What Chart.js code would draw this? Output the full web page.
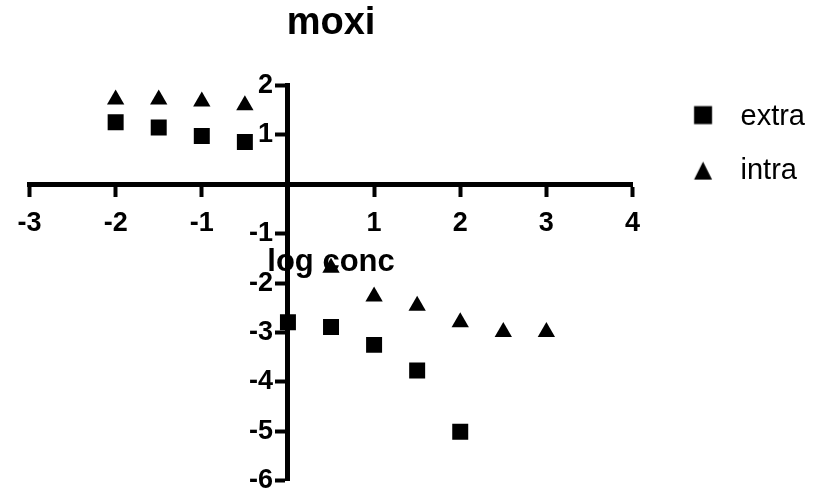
<!DOCTYPE html>
<html>
<head>
<meta charset="utf-8">
<script src="https://cdn.jsdelivr.net/npm/chart.js@4"></script>
<style>
  body { margin: 0; background: #fff; }
</style>
</head>
<body>
<canvas id="chart" width="828" height="492"></canvas>
<script>
const xExtra = [-2, -1.5, -1, -0.5, 0, 0.5, 1, 1.5, 2];
const yExtra = [1.26, 1.15, 0.98, 0.86, -2.79, -2.89, -3.25, -3.77, -5.01];
const xIntra = [-2, -1.5, -1, -0.5, 0.5, 1, 1.5, 2, 2.5, 3];
const yIntra = [1.72, 1.72, 1.68, 1.60, -1.69, -2.27, -2.46, -2.79, -2.99, -2.99];
const seriesNames = ['extra', 'intra'];
const xTicks = [-3, 4];
const yTicks = [-6, 2];

Chart.defaults.font.family = '"Liberation Sans", Arial, sans-serif';
Chart.defaults.color = '#000';

// legend icons drawn off-centre so marker and text sit where the original has them
function legendIcon(style) {
    const c = document.createElement('canvas');
    c.width = 44; c.height = 24;
    const g = c.getContext('2d');
    g.fillStyle = '#000';
    if (style === 'rect') {
        g.fillRect(24.25, 1.5, 18, 18);
    } else {
        g.beginPath();
        g.moveTo(33.25, 3);
        g.lineTo(42.25, 21);
        g.lineTo(24.25, 21);
        g.closePath();
        g.fill();
    }
    return c;
}

// y labels of an axis placed by value sit on the axis line; move them left of the ticks
const yLabelShift = {
    id: 'yLabelShift',
    beforeDraw(chart) {
        const items = chart.scales.y.getLabelItems(chart.chartArea);
        if (!items._shifted) {
            items.forEach(it => { it.options.translation[0] -= 15; });
            items._shifted = true;
        }
    }
};

const toPoints = (xs, ys) => xs.map((x, i) => ({x: x, y: ys[i]}));

const ctx = document.getElementById('chart');

new Chart(ctx, {
    type: 'scatter',
    data: {
        datasets: [{
            label: seriesNames[0],
            data: toPoints(xExtra, yExtra),
            pointStyle: 'rect',
            pointRadius: 11.3,
            pointHoverRadius: 11.3,
            backgroundColor: '#000',
            borderWidth: 0
        }, {
            label: seriesNames[1],
            data: toPoints(xIntra, yIntra),
            pointStyle: 'triangle',
            pointRadius: 10,
            pointHoverRadius: 10,
            backgroundColor: '#000',
            borderWidth: 0
        }]
    },
    plugins: [yLabelShift],
    options: {
        responsive: false,
        animation: false,
        layout: {
            padding: {left: 29.5, right: 13, top: 0, bottom: 9.5}
        },
        plugins: {
            title: {
                display: true,
                fullSize: false,
                text: 'moxi',
                font: {size: 38, weight: 'bold'},
                padding: {top: 1, bottom: 39}
            },
            legend: {
                position: 'right',
                align: 'start',
                fullSize: false,
                title: {
                    display: true,
                    text: '',
                    padding: {top: -22.9, bottom: 0}
                },
                labels: {
                    usePointStyle: true,
                    pointStyleWidth: 68.5,
                    padding: 25,
                    font: {size: 29},
                    generateLabels: (chart) => chart.data.datasets.map((ds, i) => ({
                        text: ds.label,
                        pointStyle: legendIcon(ds.pointStyle),
                        fillStyle: '#000',
                        strokeStyle: '#000',
                        lineWidth: 0,
                        hidden: false,
                        datasetIndex: i
                    }))
                }
            },
            tooltip: {enabled: false}
        },
        scales: {
            x: {
                type: 'linear',
                position: {y: 0},
                min: xTicks[0],
                max: xTicks[1],
                ticks: {
                    stepSize: 1,
                    autoSkip: false,
                    maxRotation: 0,
                    padding: 13,
                    font: {size: 27, weight: 'bold'},
                    callback: (v) => v === 0 ? '' : v
                },
                grid: {
                    drawOnChartArea: false,
                    tickLength: 10,
                    tickWidth: 4,
                    tickColor: '#000'
                },
                border: {display: true, width: 5, color: '#000'},
                title: {
                    display: true,
                    text: 'log conc',
                    font: {size: 31, weight: 'bold'},
                    padding: {top: 0, bottom: -96.6}
                },
                afterFit: (s) => {
                    s.height = 0;
                    s.paddingLeft = 0; s.paddingRight = 0;
                }
            },
            y: {
                type: 'linear',
                position: {x: 0},
                min: yTicks[0],
                max: yTicks[1],
                ticks: {
                    stepSize: 1,
                    autoSkip: false,
                    padding: 5,
                    font: {size: 27, weight: 'bold'},
                    callback: (v) => v === 0 ? '' : v
                },
                grid: {
                    drawOnChartArea: false,
                    tickLength: 10,
                    tickWidth: 4,
                    tickColor: '#000'
                },
                border: {display: true, width: 5, color: '#000'},
                afterFit: (s) => {
                    s.width = 0;
                    s.paddingTop = 0; s.paddingBottom = 0;
                }
            }
        }
    }
});
</script>
</body>
</html>
